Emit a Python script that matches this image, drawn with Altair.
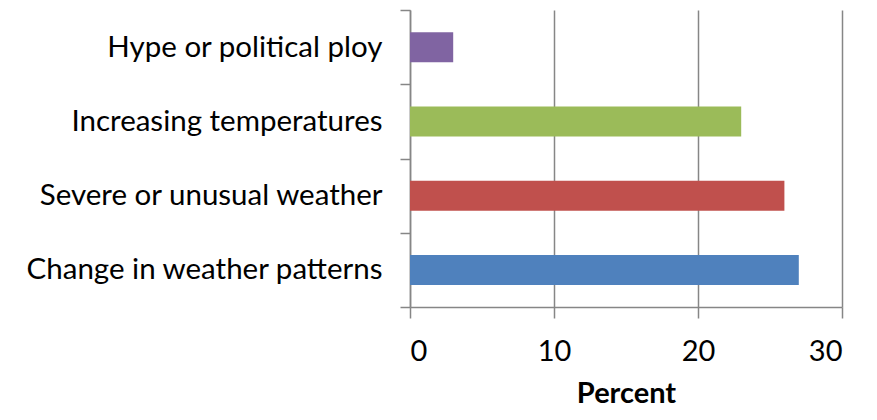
import altair as alt
import pandas as pd

categories = ["Hype or political ploy", "Increasing temperatures",
              "Severe or unusual weather", "Change in weather patterns"]
values = [3, 23, 26, 27]
colors = ["#8064A2", "#9BBB59", "#C0504D", "#4F81BD"]
x_ticks = [0, 10, 20, 30]

df = pd.DataFrame({"category": categories, "value": values, "color": colors})

FONT = "Lato"

chart = alt.Chart(df).mark_bar(size=30).encode(
    y=alt.Y("category:N", sort=categories,
            scale=alt.Scale(paddingInner=0, paddingOuter=0),
            axis=alt.Axis(title=None, tickBand="extent", grid=False,
                          domainColor="#868686", domainWidth=1.5,
                          tickColor="#868686", tickWidth=1.5,
                          tickSize=10, labelFontSize=29.5, labelFont=FONT,
                          labelColor="#000000", labelPadding=18,
                          labelLimit=400)),
    x=alt.X("value:Q", scale=alt.Scale(domain=[0, 30], nice=False),
            axis=alt.Axis(title="Percent", values=x_ticks, grid=True,
                          gridColor="#868686", gridWidth=1.5,
                          domainColor="#868686", domainWidth=1.5,
                          tickColor="#868686", tickWidth=1.5,
                          tickSize=11, labelFontSize=29, labelFont=FONT,
                          labelColor="#000000", labelPadding=19,
                          titleFontSize=29, titleFont=FONT,
                          titleFontWeight="bold", titleColor="#000000",
                          titlePadding=13)),
    color=alt.Color("color:N", scale=None, legend=None),
).properties(
    width=432, height=297,
    autosize=alt.AutoSizeParams(type="none"),
    padding={"left": 402, "top": 2, "right": 27, "bottom": 105},
).configure_view(stroke=None)

chart.save("out.html", embed_options={"renderer": "svg", "actions": False})
